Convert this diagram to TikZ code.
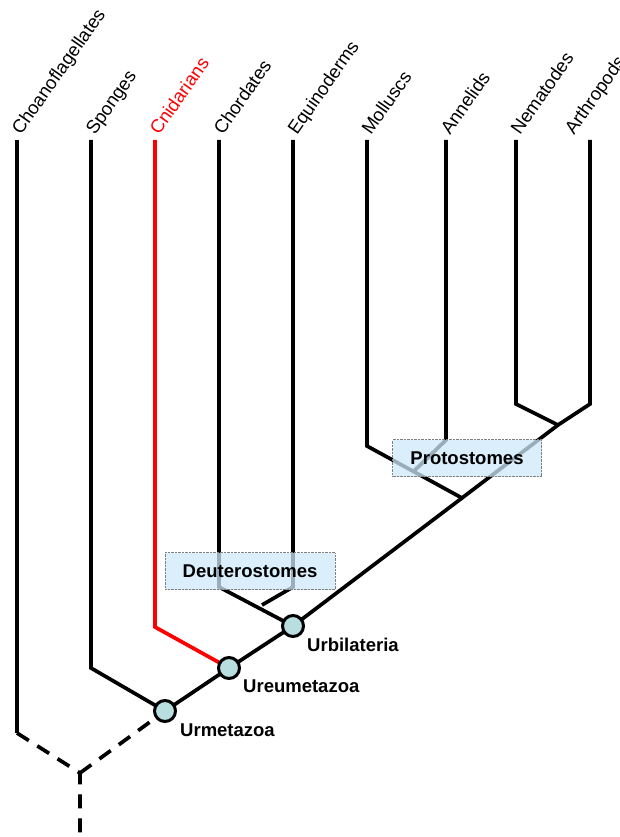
\documentclass[tikz,border=0pt]{standalone}
\usepackage{fontspec}
\setmainfont{Liberation Sans}
\usetikzlibrary{positioning}
\definecolor{ancfill}{HTML}{B9DEE0}
\definecolor{grpfill}{HTML}{CDE8FA}
\tikzset{
  branch/.style={line width=3.7pt, line join=miter},
  stem/.style={branch, dash pattern=on 14pt off 10pt},
  taxon/.style={rotate=55, anchor=base west, inner sep=0pt, font=\fontsize{18.5}{22}\selectfont},
  ancestor/.style={circle, draw, line width=3pt, fill=ancfill, minimum size=21pt, inner sep=0pt},
  anclabel/.style={anchor=west, inner sep=0pt, font=\bfseries\fontsize{18.5}{22}\selectfont},
  group/.style={draw=gray, densely dotted, thin, fill=grpfill, fill opacity=0.75, text opacity=1,
    minimum height=37pt, inner sep=0pt, font=\bfseries\fontsize{18.5}{22}\selectfont}
}
\begin{document}
\begin{tikzpicture}[x=1pt, y=-1pt]
    \useasboundingbox (0,0) rectangle (619,837);
    %tips
    \foreach \n/\x in {choano/17, sponge/91, cnid/155, chord/219, equin/293, moll/367, annel/446, nemat/516, arthr/590}
        \coordinate (\n) at (\x,140);
    \node[taxon] at (21,136) {Choanoflagellates};
    \node[taxon] at (95,136) {Sponges};
    \node[taxon, red] at (159,136) {Cnidarians};
    \node[taxon] at (223,136) {Chordates};
    \node[taxon] at (297,136) {Equinoderms};
    \node[taxon] at (371,136) {Molluscs};
    \node[taxon] at (450,136) {Annelids};
    \node[taxon] at (520,136) {Nematodes};
    \node[taxon] at (574,136) {Arthropods};
    %bends and forks
    \coordinate (choanoB) at (17,733);
    \coordinate (spongeB) at (91,668);
    \coordinate (cnidB) at (155,627);
    \coordinate (chordB) at (219,587);
    \coordinate (equinB) at (293,587);
    \coordinate (mollB) at (367,446);
    \coordinate (annelB) at (446,440);
    \coordinate (nematB) at (516,404);
    \coordinate (arthrB) at (590,404);
    \coordinate (root) at (80,773);
    \coordinate (rootE) at (80,837);
    \coordinate (urm) at (165,711);
    \coordinate (ureu) at (229,668);
    \coordinate (urbi) at (293,626);
    \coordinate (deut) at (262,605);
    \coordinate (prot) at (462,498);
    \coordinate (lopho) at (414,471);
    \coordinate (ecdy) at (558,425);
    %tree
    \draw[branch] (choano) -- (choanoB);
    \draw[stem] (choanoB) -- (root) -- (rootE);
    \draw[stem] (root) -- (urm);
    \draw[branch] (sponge) -- (spongeB) -- (urm);
    \draw[branch, red] (cnid) -- (cnidB) -- (ureu);
    \draw[branch] (urm) -- (ureu) -- (urbi) -- (prot) -- (ecdy) -- (arthrB) -- (arthr);
    \draw[branch] (chord) -- (chordB) -- (urbi);
    \draw[branch] (equin) -- (equinB) -- (deut);
    \draw[branch] (moll) -- (mollB) -- (prot);
    \draw[branch] (annel) -- (annelB) -- (lopho);
    \draw[branch] (nemat) -- (nematB) -- (ecdy);
    %groups
    \node[group, minimum width=170pt] (deutbox) at (250,571) {Deuterostomes};
    \node[group, minimum width=149pt] (protbox) at (467,458) {Protostomes};
    %ancestors
    \node[ancestor] (urmN) at (urm) {};
    \node[ancestor] (ureuN) at (ureu) {};
    \node[ancestor] (urbiN) at (urbi) {};
    \node[anclabel] at (180,730) {Urmetazoa};
    \node[anclabel] at (243,686) {Ureumetazoa};
    \node[anclabel] at (307,645) {Urbilateria};
\end{tikzpicture}
\end{document}
